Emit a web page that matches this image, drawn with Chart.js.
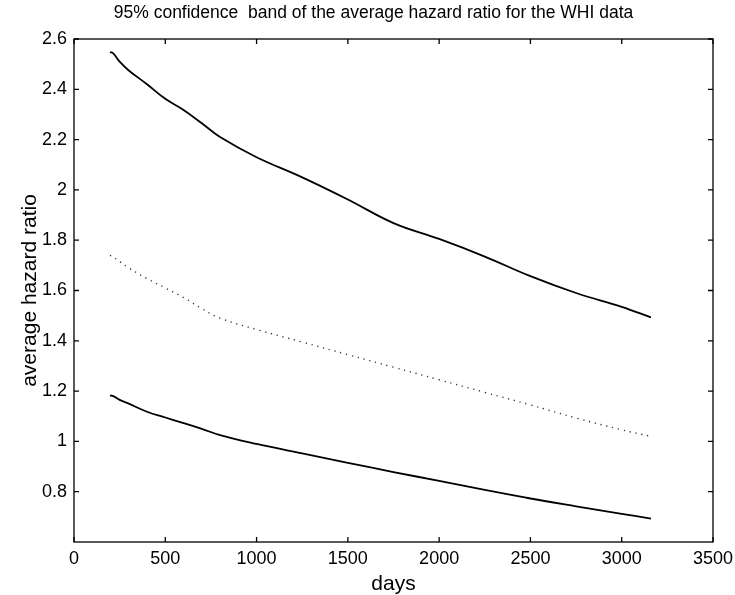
<!DOCTYPE html>
<html>
<head>
<meta charset="utf-8">
<script src="https://cdn.jsdelivr.net/npm/chart.js@4/dist/chart.umd.min.js"></script>
<style>
  html, body { margin: 0; padding: 0; background: #fff; }
  #wrap { width: 735px; height: 595px; position: relative; }
</style>
</head>
<body>
<div id="wrap"><canvas id="chart"></canvas></div>
<script>
var days = [197, 215, 250, 300, 400, 500, 600, 700, 800, 1000, 1250, 1500, 1750, 2000, 2250, 2500, 2750, 3000, 3160];
var upperBand = [2.548, 2.543, 2.51, 2.475, 2.42, 2.362, 2.318, 2.265, 2.21, 2.13, 2.05, 1.962, 1.868, 1.805, 1.735, 1.657, 1.59, 1.535, 1.493];
var estimate = [1.74, 1.733, 1.715, 1.69, 1.647, 1.61, 1.572, 1.528, 1.49, 1.445, 1.395, 1.345, 1.295, 1.245, 1.195, 1.145, 1.093, 1.046, 1.02];
var lowerBand = [1.183, 1.18, 1.165, 1.15, 1.118, 1.095, 1.073, 1.05, 1.025, 0.99, 0.952, 0.915, 0.878, 0.843, 0.807, 0.773, 0.742, 0.712, 0.693];

var xTicks = [0, 500, 1000, 1500, 2000, 2500, 3000, 3500];
var yTicks = [0.8, 1.0, 1.2, 1.4, 1.6, 1.8, 2.0, 2.2, 2.4, 2.6];
var titleText = '95% confidence  band of the average hazard ratio for the WHI data';

var FONT = '"Liberation Sans", Arial, Helvetica, sans-serif';

function pts(ys) {
    return days.map(function (d, i) { return { x: d, y: ys[i] }; });
}

// MATLAB-like box with inward ticks on all four sides, plus the title
var boxPlugin = {
    id: 'boxTicks',
    afterDraw: function (chart) {
        var ctx = chart.ctx, a = chart.chartArea;
        var sx = chart.scales.x, sy = chart.scales.y;
        var len = 5;
        ctx.save();
        ctx.strokeStyle = '#000';
        ctx.lineWidth = 1.3;
        ctx.strokeRect(a.left, a.top, a.right - a.left, a.bottom - a.top);
        ctx.beginPath();
        xTicks.forEach(function (v) {
            var px = sx.getPixelForValue(v);
            ctx.moveTo(px, a.bottom); ctx.lineTo(px, a.bottom - len);
            ctx.moveTo(px, a.top); ctx.lineTo(px, a.top + len);
        });
        yTicks.forEach(function (v) {
            var py = sy.getPixelForValue(v);
            ctx.moveTo(a.left, py); ctx.lineTo(a.left + len, py);
            ctx.moveTo(a.right, py); ctx.lineTo(a.right - len, py);
        });
        ctx.stroke();

        ctx.fillStyle = '#000';
        ctx.font = '17.5px ' + FONT;
        ctx.textAlign = 'center';
        ctx.textBaseline = 'middle';
        ctx.fillText(titleText, chart.width / 2 + 6, 13);
        ctx.restore();
    }
};

new Chart(document.getElementById('chart'), {
    type: 'line',
    data: {
        datasets: [
            { data: pts(upperBand), borderColor: '#000', borderWidth: 1.8, pointRadius: 0, tension: 0.4 },
            { data: pts(estimate), borderColor: '#333', borderWidth: 1.4, borderDash: [1.2, 4.8], pointRadius: 0, tension: 0.4 },
            { data: pts(lowerBand), borderColor: '#000', borderWidth: 1.8, pointRadius: 0, tension: 0.4 }
        ]
    },
    options: {
        responsive: true,
        maintainAspectRatio: false,
        animation: false,
        layout: { padding: { left: 0, right: 22, top: 39, bottom: 0 } },
        plugins: {
            legend: { display: false },
            tooltip: { enabled: false },
            title: { display: false }
        },
        scales: {
            x: {
                type: 'linear',
                min: 0,
                max: 3500,
                afterBuildTicks: function (s) { s.ticks = xTicks.map(function (v) { return { value: v }; }); },
                grid: { display: false, drawTicks: false },
                border: { display: false },
                ticks: {
                    color: '#000', font: { family: FONT, size: 18 }, padding: 6, maxRotation: 0,
                    callback: function (v) { return String(v); }
                },
                title: { display: true, text: 'days', color: '#000', font: { family: FONT, size: 21 }, padding: { top: 0, bottom: -2 } },
                afterFit: function (s) { s.height = 53; s.paddingLeft = 0; s.paddingRight = 0; }
            },
            y: {
                type: 'linear',
                min: 0.6,
                max: 2.6,
                afterBuildTicks: function (s) { s.ticks = yTicks.map(function (v) { return { value: v }; }); },
                grid: { display: false, drawTicks: false },
                border: { display: false },
                ticks: {
                    color: '#000', font: { family: FONT, size: 18 }, padding: 7,
                    callback: function (v) { return String(Math.round(v * 10) / 10); }
                },
                title: { display: true, text: 'average hazard ratio', color: '#000', font: { family: FONT, size: 21 }, padding: { top: 18, bottom: 0 } },
                afterFit: function (s) { s.width = 74; s.paddingTop = 0; s.paddingBottom = 0; }
            }
        }
    },
    plugins: [boxPlugin]
});
</script>
</body>
</html>
